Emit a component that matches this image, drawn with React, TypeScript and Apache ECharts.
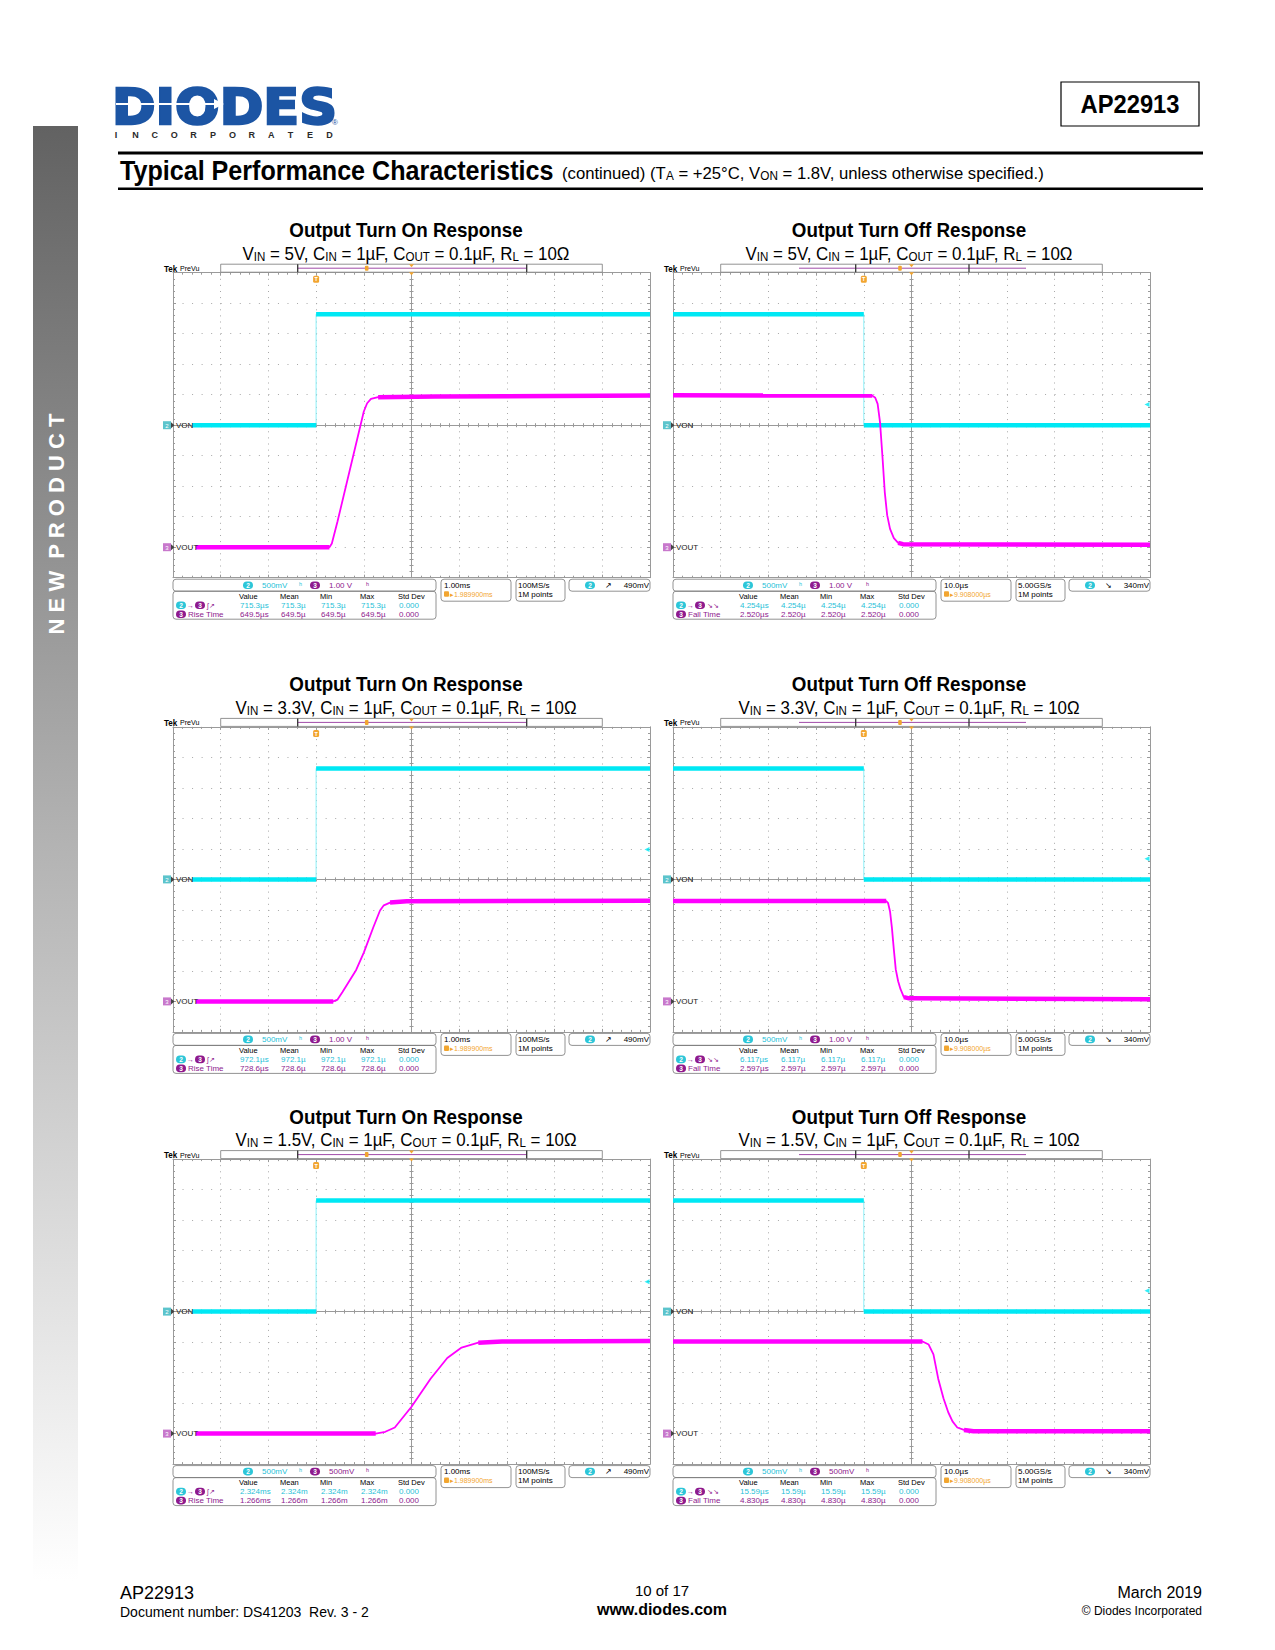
import React, { useEffect, useRef } from 'react';
import * as echarts from 'echarts';

// ---------------- DATA ----------------
const panelTitles = [
  'Output Turn On Response', 'Output Turn Off Response',
  'Output Turn On Response', 'Output Turn Off Response',
  'Output Turn On Response', 'Output Turn Off Response',
];
const vinLabels = ['5V', '5V', '3.3V', '3.3V', '1.5V', '1.5V'];
const timeMin = [-3, -40, -3, -40, -3, -40];
const timeMax = [7, 60, 7, 60, 7, 60];
const timeDiv = [1, 10, 1, 10, 1, 10];
const ch2Min = [-2.5, -2.5, -2.5, -2.5, -2.5, -2.5];
const ch2Max = [2.5, 2.5, 2.5, 2.5, 2.5, 2.5];
const ch2Div = [0.5, 0.5, 0.5, 0.5, 0.5, 0.5];
const ch3Min = [-1, -1, -1, -1, -0.5, -0.5];
const ch3Max = [9, 9, 9, 9, 4.5, 4.5];
const ch3Div = [1, 1, 1, 1, 0.5, 0.5];
const ch2ScaleLabels = ['500mV', '500mV', '500mV', '500mV', '500mV', '500mV'];
const ch3ScaleLabels = ['1.00 V', '1.00 V', '1.00 V', '1.00 V', '500mV', '500mV'];
const timeDivLabels = ['1.00ms', '10.0µs', '1.00ms', '10.0µs', '1.00ms', '10.0µs'];
const triggerPosLabels = ['1.989900ms', '9.908000µs', '1.989900ms', '9.908000µs', '1.989900ms', '9.908000µs'];
const sampleRateLabels = ['100MS/s', '5.00GS/s', '100MS/s', '5.00GS/s', '100MS/s', '5.00GS/s'];
const recordLabels = ['1M points', '1M points', '1M points', '1M points', '1M points', '1M points'];
const trigLevels = [0.49, 0.34, 0.49, 0.34, 0.49, 0.34];
const trigLevelLabels = ['490mV', '340mV', '490mV', '340mV', '490mV', '340mV'];
const delayValues = ['715.3µs', '4.254µs', '972.1µs', '6.117µs', '2.324ms', '15.59µs'];
const edgeNames = ['Rise Time', 'Fall Time', 'Rise Time', 'Fall Time', 'Rise Time', 'Fall Time'];
const edgeValues = ['649.5µs', '2.520µs', '728.6µs', '2.597µs', '1.266ms', '4.830µs'];
const tableHeaders = ['Value', 'Mean', 'Min', 'Max', 'Std Dev'];
const stdDevValue = '0.000';

// VON (ch2) traces: [time, volts]
const cyanOn5 = [[-2.6, 0], [0, 0], [0, 1.82], [7, 1.82]];
const cyanOff5 = [[-40, 1.82], [0, 1.82], [0, 0], [60, 0]];
const cyanOn33 = [[-2.6, 0], [0, 0], [0, 1.82], [7, 1.82]];
const cyanOff33 = [[-40, 1.82], [0, 1.82], [0, 0], [60, 0]];
const cyanOn15 = [[-2.6, 0], [0, 0], [0, 1.82], [7, 1.82]];
const cyanOff15 = [[-40, 1.82], [0, 1.82], [0, 0], [60, 0]];

// VOUT (ch3) traces: [time, volts]
const magOn5 = [[-2.52, 0], [0.28, 0], [0.33, 0.12], [0.45, 0.85], [1.0, 4.45], [1.07, 4.72], [1.15, 4.86], [1.3, 4.92], [2.5, 4.94], [7, 4.97]];
const magOff5 = [[-40, 4.98], [1.8, 4.97], [2.4, 4.9], [2.9, 4.7], [3.4, 4.1], [3.9, 3.0], [4.4, 1.8], [4.9, 1.05], [5.5, 0.6], [6.3, 0.3], [7.2, 0.14], [8.2, 0.1], [60, 0.08]];
const magOn33 = [[-2.52, 0], [0.36, 0], [0.45, 0.06], [0.55, 0.3], [0.84, 1.03], [1.0, 1.6], [1.2, 2.43], [1.34, 2.98], [1.42, 3.15], [1.55, 3.24], [1.9, 3.28], [7, 3.3]];
const magOff33 = [[-40, 3.29], [4.7, 3.29], [5.1, 3.22], [5.5, 2.95], [5.9, 2.4], [6.3, 1.7], [6.7, 1.05], [7.2, 0.66], [7.7, 0.4], [8.4, 0.14], [9.5, 0.1], [60, 0.07]];
const magOn15 = [[-2.52, 0], [1.25, 0], [1.45, 0.03], [1.65, 0.1], [2.0, 0.44], [2.4, 0.9], [2.75, 1.24], [3.05, 1.41], [3.4, 1.49], [3.9, 1.51], [7, 1.52]];
const magOff15 = [[-40, 1.51], [12.3, 1.51], [13.6, 1.46], [14.6, 1.3], [15.6, 0.9], [16.7, 0.58], [17.7, 0.35], [18.6, 0.2], [19.6, 0.1], [21, 0.06], [23, 0.04], [60, 0.04]];

const cyanTraces = [cyanOn5, cyanOff5, cyanOn33, cyanOff33, cyanOn15, cyanOff15];
const magTraces = [magOn5, magOff5, magOn33, magOff33, magOn15, magOff15];

// ---------------- LAYOUT / STYLE ----------------
const COLS = [173, 673];
const ROWS = [272.7, 726.9, 1159.1];
const GW = 477;
const GH = 305;
const FONT = "'Liberation Sans', Arial, Helvetica, sans-serif";
const EDGE = '#9a9a9a';
const DOT = '#a8a8a8';
const CYAN = '#00e8f4';
const CYAN_THIN = '#8cf0f8';
const MAG = '#ff00ff';
const CYAN_TXT = '#1fbfd8';
const CYAN_BADGE = '#2cc6d8';
const PURPLE = '#8e1a8e';
const ORANGE = '#f2a530';

function flatRuns(trace: number[][], vdiv: number) {
  const runs: number[][][] = [];
  let cur: number[][] | null = null;
  for (let i = 0; i < trace.length - 1; i++) {
    const a = trace[i], b = trace[i + 1];
    const flat = Math.abs(b[1] - a[1]) / vdiv < 0.05 && b[0] !== a[0];
    if (flat) {
      if (!cur) cur = [a];
      cur.push(b);
    } else if (cur) {
      runs.push(cur);
      cur = null;
    }
  }
  if (cur) runs.push(cur);
  return runs;
}

function t(x: number, y: number, text: string, o: any = {}) {
  return {
    type: 'text',
    x, y,
    z: o.z ?? 10,
    rotation: o.rotation ?? 0,
    scaleX: o.scaleX ?? 1,
    style: {
      text,
      fill: o.fill ?? '#000',
      fontSize: o.size ?? 10,
      fontFamily: o.family ?? FONT,
      fontWeight: o.weight ?? 'normal',
      textAlign: o.align ?? 'left',
      textVerticalAlign: o.valign ?? 'middle',
      ...(o.stroke ? { stroke: o.stroke, lineWidth: o.lineWidth ?? 1 } : {}),
    },
  };
}

function badge(cx: number, cy: number, label: string, fill: string) {
  return [
    { type: 'rect', z: 10, shape: { x: cx - 5, y: cy - 3.8, width: 10, height: 7.6, r: 3.8 }, style: { fill } },
    t(cx, cy + 0.3, label, { fill: '#fff', size: 6.5, weight: 'bold', align: 'center' }),
  ];
}

function subRich(size: number, sub: number) {
  return {
    n: { fontSize: size, fontFamily: FONT, lineHeight: size + 5, verticalAlign: 'bottom', fill: '#000' },
    s: { fontSize: sub, fontFamily: FONT, lineHeight: sub, verticalAlign: 'bottom', fill: '#000' },
  };
}

function buildOption() {
  const grid: any[] = [];
  const xAxis: any[] = [];
  const yAxis: any[] = [];
  const series: any[] = [];
  const graphic: any[] = [];

  // ---------- page header ----------
  graphic.push({
    type: 'rect', z: 0,
    shape: { x: 33, y: 126, width: 45, height: 1455 },
    style: {
      fill: new echarts.graphic.LinearGradient(0, 0, 0, 1, [
        { offset: 0, color: '#626262' },
        { offset: 0.5, color: '#b4b4b4' },
        { offset: 1, color: '#ffffff' },
      ]),
    },
  });
  graphic.push(t(56, 524, 'N E W  P R O D U C T', { fill: '#fff', size: 22, weight: 'bold', align: 'center', rotation: Math.PI / 2 }));

  // logo
  graphic.push(t(112, 106, 'DIODES', {
    fill: '#1c55a4', size: 50, weight: 'bold', family: "'DejaVu Sans', sans-serif",
    scaleX: 1.05, stroke: '#1c55a4', lineWidth: 2.5,
  }));
  graphic.push({ type: 'line', z: 12, shape: { x1: 116, y1: 104, x2: 216, y2: 104 }, style: { stroke: '#fff', lineWidth: 2.2 } });
  graphic.push({ type: 'polygon', z: 12, shape: { points: [[214, 99], [224, 104], [214, 109]] }, style: { fill: '#fff' } });
  graphic.push(t(335, 122, '®', { fill: '#1c55a4', size: 8, align: 'center' }));
  const inc = 'INCORPORATED';
  for (let i = 0; i < inc.length; i++) {
    graphic.push(t(116 + i * 19.4, 135, inc[i], { fill: '#2a2a2a', size: 9, weight: 'bold', align: 'center' }));
  }

  // part number box
  graphic.push({ type: 'rect', z: 5, shape: { x: 1061, y: 82, width: 138, height: 44 }, style: { fill: '#fff', stroke: '#000', lineWidth: 1.2 } });
  graphic.push(t(1130, 104.5, 'AP22913', { size: 25, weight: 'bold', align: 'center', scaleX: 0.95 }));

  // header lines + title
  graphic.push({ type: 'rect', z: 5, shape: { x: 118, y: 151.5, width: 1085, height: 3 }, style: { fill: '#000' } });
  graphic.push({ type: 'rect', z: 5, shape: { x: 118, y: 187.5, width: 1085, height: 2.5 }, style: { fill: '#000' } });
  graphic.push(t(120, 170.5, 'Typical Performance Characteristics', { size: 27, weight: 'bold', scaleX: 0.93 }));
  graphic.push({
    type: 'text', z: 10, x: 562, y: 171, scaleX: 0.982,
    style: {
      text: '{n|(continued) (T}{s|A}{n| = +25°C, V}{s|ON}{n| = 1.8V, unless otherwise specified.)}',
      rich: subRich(17, 12), textAlign: 'left', textVerticalAlign: 'middle',
    },
  });

  // footer
  graphic.push(t(120, 1592.5, 'AP22913', { size: 18 }));
  graphic.push(t(120, 1611.5, 'Document number: DS41203  Rev. 3 - 2', { size: 14 }));
  graphic.push(t(662, 1590.5, '10 of 17', { size: 15, align: 'center' }));
  graphic.push(t(662, 1609.5, 'www.diodes.com', { size: 16, weight: 'bold', align: 'center' }));
  graphic.push(t(1202, 1592.5, 'March 2019', { size: 16, align: 'right' }));
  graphic.push(t(1202, 1610.5, '© Diodes Incorporated', { size: 12, align: 'right' }));

  // ---------- panels ----------
  for (let p = 0; p < 6; p++) {
    const col = p % 2;
    const row = Math.floor(p / 2);
    const L = COLS[col];
    const T = ROWS[row];
    const B = T + GH;
    const isOff = col === 1;
    const cx = L + GW / 2;

    grid.push({ left: L, top: T, width: GW, height: GH, show: false, containLabel: false });

    const xBase: any = {
      type: 'value', gridIndex: p, min: timeMin[p], max: timeMax[p], interval: timeDiv[p],
      axisLabel: { show: false }, splitLine: { show: false },
      axisLine: { show: true, onZero: false, lineStyle: { color: EDGE, width: 1 } },
      axisTick: { show: true, inside: true, length: 3, lineStyle: { color: EDGE, width: 1 } },
      minorTick: { show: true, splitNumber: 5, length: 2, lineStyle: { color: EDGE, width: 1 } },
      minorSplitLine: { show: false },
    };
    xAxis.push({
      ...xBase, position: 'bottom',
      splitLine: { show: true, lineStyle: { color: DOT, width: 1, type: [1, GH / 50 - 1] } },
    });
    xAxis.push({ ...xBase, position: 'top' });
    xAxis.push({ ...xBase, position: 'bottom', offset: -GH / 2, axisTick: { ...xBase.axisTick, inside: true, length: 2 } });
    xAxis.push({ ...xBase, position: 'bottom', offset: -GH / 2, axisTick: { ...xBase.axisTick, inside: false, length: 2 } });

    const yBase: any = {
      type: 'value', gridIndex: p,
      axisLabel: { show: false }, splitLine: { show: false },
      axisLine: { show: true, onZero: false, lineStyle: { color: EDGE, width: 1 } },
      axisTick: { show: true, inside: true, length: 3, lineStyle: { color: EDGE, width: 1 } },
      minorTick: { show: true, splitNumber: 5, length: 2, lineStyle: { color: EDGE, width: 1 } },
      minorSplitLine: { show: false },
    };
    const ch2 = { min: ch2Min[p], max: ch2Max[p], interval: ch2Div[p] };
    yAxis.push({
      ...yBase, ...ch2, position: 'left',
      splitLine: { show: true, lineStyle: { color: DOT, width: 1, type: [1, GW / 50 - 1] } },
    });
    yAxis.push({ ...yBase, min: ch3Min[p], max: ch3Max[p], interval: ch3Div[p], position: 'right' });
    yAxis.push({ ...yBase, ...ch2, position: 'left', offset: -GW / 2, axisTick: { ...yBase.axisTick, inside: true, length: 2 } });
    yAxis.push({ ...yBase, ...ch2, position: 'left', offset: -GW / 2, axisTick: { ...yBase.axisTick, inside: false, length: 2 } });

    const xi = p * 4;
    const yi2 = p * 4;
    const yi3 = p * 4 + 1;

    // VON (ch2)
    series.push({
      type: 'line', xAxisIndex: xi, yAxisIndex: yi2, data: cyanTraces[p], symbol: 'none',
      lineStyle: { color: CYAN_THIN, width: 1 }, z: 3, silent: true,
    });
    flatRuns(cyanTraces[p], ch2Div[p]).forEach((run) => {
      series.push({
        type: 'line', xAxisIndex: xi, yAxisIndex: yi2, data: run, symbol: 'none',
        lineStyle: { color: CYAN, width: 4.5 }, z: 4, silent: true,
      });
    });
    // trigger level marker
    series.push({
      type: 'scatter', xAxisIndex: xi, yAxisIndex: yi2, data: [[timeMax[p], trigLevels[p]]],
      symbol: 'triangle', symbolRotate: 90, symbolSize: [5, 5], symbolOffset: [-3, 0],
      itemStyle: { color: CYAN }, z: 3, silent: true, clip: false,
    });
    // VOUT (ch3)
    series.push({
      type: 'line', xAxisIndex: xi, yAxisIndex: yi3, data: magTraces[p], symbol: 'none',
      lineStyle: { color: MAG, width: 1.8 }, z: 5, silent: true,
    });
    flatRuns(magTraces[p], ch3Div[p]).forEach((run) => {
      series.push({
        type: 'line', xAxisIndex: xi, yAxisIndex: yi3, data: run, symbol: 'none',
        lineStyle: { color: MAG, width: 4.5 }, z: 6, silent: true,
      });
    });

    // titles
    const titleX = col === 0 ? 406 : 909;
    const titleY = T - 42.7;
    graphic.push(t(titleX, titleY, panelTitles[p], { size: 20, weight: 'bold', align: 'center', scaleX: 0.94 }));
    graphic.push({
      type: 'text', z: 10, x: titleX, y: titleY + 21, scaleX: 0.89,
      style: {
        text: `{n|V}{s|IN}{n| = ${vinLabels[p]}, C}{s|IN}{n| = 1µF, C}{s|OUT}{n| = 0.1µF, R}{s|L}{n| = 10Ω}`,
        rich: subRich(19, 13), textAlign: 'center', textVerticalAlign: 'middle',
      },
    });

    // Tek PreVu + top record bar
    graphic.push(t(L - 9, T - 4, 'Tek', { size: 9, weight: 'bold', scaleX: 0.9 }));
    graphic.push(t(L + 7, T - 4, 'PreVu', { size: 7.5, scaleX: 0.95 }));
    graphic.push({ type: 'rect', z: 8, shape: { x: L + GW * 0.1, y: T - 8.5, width: GW * 0.8, height: 8 }, style: { fill: '#fff', stroke: '#777', lineWidth: 0.8 } });
    const br = isOff ? [182.7, 296] : [124.7, 353.7];
    const pl = isOff ? [126, 353] : [124.7, 353.7];
    graphic.push({ type: 'line', z: 9, shape: { x1: L + pl[0], y1: T - 4.5, x2: L + pl[1], y2: T - 4.5 }, style: { stroke: '#a04aa8', lineWidth: 1 } });
    br.forEach((bx) => {
      graphic.push({ type: 'line', z: 9, shape: { x1: L + bx, y1: T - 8.5, x2: L + bx, y2: T - 0.5 }, style: { stroke: '#333', lineWidth: 1.3 } });
    });
    const om = isOff ? 227 : 193.7;
    graphic.push({ type: 'rect', z: 9, shape: { x: L + om - 1.8, y: T - 7, width: 3.6, height: 5, r: 1 }, style: { fill: ORANGE } });
    graphic.push({ type: 'polygon', z: 9, shape: { points: [[cx - 2.5, T - 8.5], [cx + 2.5, T - 8.5], [cx, T - 5.5]] }, style: { fill: ORANGE } });
    graphic.push({ type: 'polygon', z: 9, shape: { points: [[cx - 2.5, T - 0.5], [cx + 2.5, T - 0.5], [cx, T + 2.5]] }, style: { fill: ORANGE } });
    const trigX = L + ((0 - timeMin[p]) / (timeMax[p] - timeMin[p])) * GW;
    graphic.push({ type: 'rect', z: 9, shape: { x: trigX - 3, y: T + 3, width: 6, height: 7, r: 1.5 }, style: { fill: ORANGE } });
    graphic.push(t(trigX, T + 6.6, 'T', { size: 5.5, weight: 'bold', fill: '#fff', align: 'center' }));

    // channel markers
    const yVon = T + GH * (ch2Max[p] - 0) / (ch2Max[p] - ch2Min[p]);
    const yVout = T + GH * (ch3Max[p] - 0) / (ch3Max[p] - ch3Min[p]);
    const marker = (y: number, lab: string, fill: string, name: string) => {
      graphic.push({ type: 'rect', z: 9, shape: { x: L - 10, y: y - 4, width: 8, height: 8 }, style: { fill } });
      graphic.push({ type: 'polygon', z: 9, shape: { points: [[L - 2, y - 3], [L + 1.5, y], [L - 2, y + 3]] }, style: { fill: '#444' } });
      graphic.push(t(L - 6, y + 0.3, lab, { size: 6, fill: '#fff', align: 'center' }));
      graphic.push(t(L + 3, y + 0.3, name, { size: 8, fill: '#222' }));
    };
    marker(yVon, '2', '#5cc4cc', 'VON');
    marker(yVout, '3', '#c878cc', 'VOUT');

    // ---------- readouts ----------
    const ya = B + 7.5;
    const box = (x: number, y: number, w: number, h: number) => graphic.push({
      type: 'rect', z: 8, shape: { x, y, width: w, height: h, r: 3 },
      style: { fill: 'none', stroke: '#777', lineWidth: 0.8 },
    });
    const rs = 8;
    box(L, B + 1.5, 263, 12);
    graphic.push(...badge(L + 75, ya, '2', CYAN_BADGE));
    graphic.push(t(L + 89, ya, ch2ScaleLabels[p], { size: rs, fill: CYAN_TXT }));
    graphic.push(t(L + 126, ya, 'ʰ', { size: rs, fill: CYAN_TXT }));
    graphic.push(...badge(L + 142, ya, '3', PURPLE));
    graphic.push(t(L + 156, ya, ch3ScaleLabels[p], { size: rs, fill: PURPLE }));
    graphic.push(t(L + 193, ya, 'ʰ', { size: rs, fill: PURPLE }));

    box(L + 268, B + 1.5, 70, 22);
    graphic.push(t(L + 271, ya, timeDivLabels[p], { size: rs }));
    graphic.push({ type: 'rect', z: 9, shape: { x: L + 271, y: B + 13.5, width: 5, height: 5.5, r: 1 }, style: { fill: ORANGE } });
    graphic.push(t(L + 277, B + 16.5, '▸' + triggerPosLabels[p], { size: 7, fill: ORANGE }));

    box(L + 343, B + 1.5, 49, 22);
    graphic.push(t(L + 345, ya, sampleRateLabels[p], { size: rs }));
    graphic.push(t(L + 345, B + 16.5, recordLabels[p], { size: rs }));

    box(L + 396, B + 1.5, 81, 12);
    graphic.push(...badge(L + 417, ya, '2', CYAN_BADGE));
    graphic.push(t(L + 432, ya, isOff ? '↘' : '↗', { size: rs }));
    graphic.push(t(L + 476, ya, trigLevelLabels[p], { size: rs, align: 'right' }));

    box(L, B + 13.5, 263, 28);
    const colsX = [66, 107, 147, 187, 225];
    tableHeaders.forEach((h, i) => graphic.push(t(L + colsX[i], B + 18.5, h, { size: 7.5 })));
    const yc = B + 27.5;
    const yd = B + 36.5;
    graphic.push(...badge(L + 8, yc, '2', CYAN_BADGE));
    graphic.push(t(L + 14, yc, '→', { size: 7, fill: PURPLE }));
    graphic.push(...badge(L + 27, yc, '3', PURPLE));
    graphic.push(t(L + 34, yc, isOff ? '↘↘' : 'ʃ↗', { size: 7, fill: PURPLE }));
    const dv = delayValues[p];
    const dvs = dv.replace(/s$/, '');
    [dv, dvs, dvs, dvs, stdDevValue].forEach((v, i) => graphic.push(t(L + colsX[i] + 1, yc, v, { size: rs, fill: CYAN_TXT })));
    graphic.push(...badge(L + 8, yd, '3', PURPLE));
    graphic.push(t(L + 15, yd, edgeNames[p], { size: rs, fill: PURPLE }));
    const ev = edgeValues[p];
    const evs = ev.replace(/s$/, '');
    [ev, evs, evs, evs, stdDevValue].forEach((v, i) => graphic.push(t(L + colsX[i] + 1, yd, v, { size: rs, fill: PURPLE })));
  }

  return {
    animation: false,
    backgroundColor: '#ffffff',
    grid, xAxis, yAxis, series,
    graphic: { elements: graphic },
  };
}

export default function App() {
  const ref = useRef<HTMLDivElement>(null);
  useEffect(() => {
    const chart = echarts.init(ref.current as HTMLDivElement, null, { renderer: 'svg', width: 1275, height: 1650 });
    chart.setOption(buildOption() as any);
    return () => chart.dispose();
  }, []);
  return (
    <div
      ref={ref}
      style={{ position: 'absolute', left: 0, top: 0, width: 1275, height: 1650, background: '#fff' }}
    />
  );
}
